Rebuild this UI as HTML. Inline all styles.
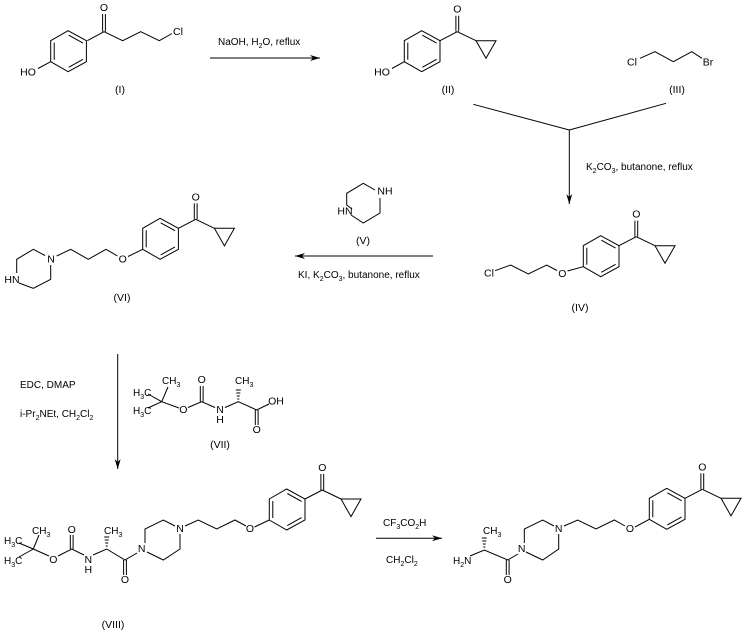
<!DOCTYPE html>
<html><head><meta charset="utf-8"><style>
html,body{margin:0;padding:0;background:#fff;}
svg{display:block;}
text{font-family:"Liberation Sans",sans-serif;font-size:10px;fill:#000;}
.a{text-anchor:middle;dominant-baseline:central;font-size:10.5px;}
.s{font-size:7px;}
</style></head><body>
<svg width="752" height="632" viewBox="0 0 752 632" xmlns="http://www.w3.org/2000/svg">
<defs>
<g id="ring" fill="none" stroke="#000" stroke-width="1">
<polygon points="0,0 0,-21 17.4,-31 35.7,-21 35.7,0 17.4,10"/>
<line x1="3.5" y1="-2" x2="3.5" y2="-19"/>
<line x1="18" y1="-26.5" x2="32.3" y2="-18.6"/>
<line x1="32.3" y1="-2.4" x2="18" y2="5.6"/>
</g>
<g id="ar">
<use href="#ring"/>
<g fill="none" stroke="#000" stroke-width="1">
<line x1="35.7" y1="-21" x2="53" y2="-30"/>
<line x1="51.6" y1="-30" x2="51.6" y2="-46"/>
<line x1="54.4" y1="-30" x2="54.4" y2="-46"/>
<line x1="53" y1="-30" x2="71.7" y2="-21"/>
<polygon points="71.7,-21 91.7,-21 81.7,-3.4"/>
</g>
<text class="a" x="53" y="-52">O</text>
</g>
<marker id="ah" viewBox="0 0 10 6" refX="10" refY="3" markerWidth="10" markerHeight="6" orient="auto" markerUnits="userSpaceOnUse"><path d="M0,0 L10,3 L0,6 L3,3 Z" fill="#000"/></marker>
</defs>

<g fill="none" stroke="#000" stroke-width="1">
<!-- I -->
<polyline points="87.3,40.7 104,31.7 122.7,40.7 140.7,31.7 159.3,40.7 172,33.5"/>
<line x1="102.6" y1="31.7" x2="102.6" y2="14"/><line x1="105.4" y1="31.7" x2="105.4" y2="14"/>
<line x1="50.7" y1="61.7" x2="38" y2="68.5"/>
<!-- arrow1 -->
<line x1="210" y1="58" x2="320" y2="58" marker-end="url(#ah)"/>
<!-- II -->
<line x1="404.3" y1="61.7" x2="392" y2="68.5"/>
<!-- III -->
<polyline points="640,58.3 655,51.7 673.3,61.7 691.7,51.7 702,58.3"/>
<!-- branch -->
<line x1="473.3" y1="104.3" x2="569.3" y2="130"/>
<line x1="666" y1="103.3" x2="569.3" y2="130"/>
<line x1="569.3" y1="130" x2="569.3" y2="204" marker-end="url(#ah)"/>
<!-- IV -->
<polyline points="495,270.7 510.7,265 528.3,274 546.7,265 557,270.5"/>
<line x1="567.5" y1="271" x2="583.3" y2="266.7"/>
<!-- V -->
<polyline points="352,209 346.7,205 346.7,193.3 363.3,183.3 375,190"/>
<polyline points="380,198 380,213 363.3,223 351,215"/>
<!-- arrow VI -->
<line x1="433" y1="256" x2="295" y2="256" marker-end="url(#ah)"/>
<!-- VI -->
<polyline points="45,255.5 33.3,249.3 16.7,259.3 16.7,273"/>
<polyline points="19,283 33.3,288.3 50.7,279.3 50.7,265"/>
<polyline points="56.7,256 70.7,249.3 88.3,259.3 106,249.3 117.5,256"/>
<line x1="128" y1="256.5" x2="142.7" y2="249.3"/>
<!-- arrow down -->
<line x1="117.7" y1="354" x2="117.7" y2="469" marker-end="url(#ah)"/>
<!-- VII -->
<line x1="148" y1="394" x2="161.7" y2="401.7"/><line x1="148" y1="408" x2="161.7" y2="401.7"/>
<line x1="168" y1="387" x2="161.7" y2="401.7"/>
<polyline points="161.7,401.7 179,408"/>
<polyline points="188,407.5 201.7,401.7 215,407.5"/>
<line x1="200.3" y1="401.7" x2="200.3" y2="386"/><line x1="203.1" y1="401.7" x2="203.1" y2="386"/>
<polyline points="225,407.5 238.3,401.7 256.7,410 269,404"/>
<line x1="255.3" y1="410" x2="255.3" y2="425"/><line x1="258.1" y1="410" x2="258.1" y2="425"/>
<!-- VIII -->
<line x1="19" y1="543" x2="33.3" y2="549"/><line x1="19" y1="557" x2="33.3" y2="549"/>
<line x1="39" y1="535" x2="33.3" y2="549"/>
<line x1="33.3" y1="549" x2="49" y2="556"/>
<polyline points="58,556 71.7,549 84,555"/>
<line x1="70.3" y1="549" x2="70.3" y2="535"/><line x1="73.1" y1="549" x2="73.1" y2="535"/>
<polyline points="93,555 106.7,549 125,560 137,553"/>
<line x1="123.6" y1="560" x2="123.6" y2="575"/><line x1="126.4" y1="560" x2="126.4" y2="575"/>
<polyline points="145,543 145,529 163.3,520 175,526"/>
<polyline points="180,534 180,549 163.3,560 147,552"/>
<polyline points="185,526 198.3,520 216.7,529 235,520 246,526"/>
<line x1="254.5" y1="527" x2="269.3" y2="520"/>
<!-- arrow bottom -->
<line x1="376" y1="538.3" x2="442" y2="538.3" marker-end="url(#ah)"/>
<!-- final -->
<polyline points="470,556 484.3,550 507.7,560 518,554"/>
<line x1="506.3" y1="560" x2="506.3" y2="575"/><line x1="509.1" y1="560" x2="509.1" y2="575"/>
<polyline points="524.3,543 524.3,529 542.7,520 554,526"/>
<polyline points="558.7,534 558.7,549 542.7,560 526,552"/>
<polyline points="564,526 577.7,520 596,529 614.3,520 625,526"/>
<line x1="635" y1="527" x2="649.3" y2="519.3"/>
</g>
<!-- hashed bonds -->
<g stroke="#000" stroke-width="1">
<line x1="237.3" y1="399" x2="239.3" y2="399"/><line x1="236.8" y1="396" x2="239.8" y2="396"/><line x1="236.3" y1="393" x2="240.3" y2="393"/><line x1="235.8" y1="390" x2="240.8" y2="390"/>
<line x1="105.7" y1="546" x2="107.7" y2="546"/><line x1="105.2" y1="543" x2="108.2" y2="543"/><line x1="104.7" y1="540" x2="108.7" y2="540"/><line x1="104.2" y1="537" x2="109.2" y2="537"/>
<line x1="483.3" y1="547" x2="485.3" y2="547"/><line x1="482.8" y1="544" x2="485.8" y2="544"/><line x1="482.3" y1="541" x2="486.3" y2="541"/><line x1="481.8" y1="538" x2="486.8" y2="538"/>
</g>

<use href="#ring" x="50.7" y="61.7"/>
<use href="#ar" x="404.3" y="61.7"/>
<use href="#ar" x="583.3" y="266.7"/>
<use href="#ar" x="142.7" y="249.3"/>
<use href="#ar" x="269.3" y="520"/>
<use href="#ar" x="649.3" y="519.3"/>

<!-- atom labels -->
<text class="a" x="104" y="8">O</text>
<text class="a" x="178" y="32">Cl</text>
<text class="a" x="28" y="72.5">HO</text>
<text class="a" x="382" y="72.5">HO</text>
<text class="a" x="632" y="62.5">Cl</text>
<text class="a" x="708" y="62.5">Br</text>
<text class="a" x="489" y="273.5">Cl</text>
<text class="a" x="562.3" y="274">O</text>
<text class="a" x="385" y="191.5">NH</text>
<text class="a" x="345" y="211.5">HN</text>
<text class="a" x="51" y="259.5">N</text>
<text class="a" x="12" y="280">HN</text>
<text class="a" x="122.7" y="259.5">O</text>
<!-- VII -->
<text x="133" y="396">H<tspan class="s" dy="3">3</tspan><tspan dy="-3">C</tspan></text>
<text x="133" y="414">H<tspan class="s" dy="3">3</tspan><tspan dy="-3">C</tspan></text>
<text x="162" y="384">CH<tspan class="s" dy="3">3</tspan></text>
<text class="a" x="183.3" y="410">O</text>
<text class="a" x="201.7" y="380">O</text>
<text class="a" x="220" y="410">N</text>
<text class="a" x="220" y="420">H</text>
<text x="235" y="384">CH<tspan class="s" dy="3">3</tspan></text>
<text class="a" x="276" y="401.7">OH</text>
<text class="a" x="256.7" y="430">O</text>
<!-- VIII -->
<text x="4" y="544">H<tspan class="s" dy="3">3</tspan><tspan dy="-3">C</tspan></text>
<text x="4" y="564">H<tspan class="s" dy="3">3</tspan><tspan dy="-3">C</tspan></text>
<text x="32" y="534">CH<tspan class="s" dy="3">3</tspan></text>
<text class="a" x="53.3" y="560">O</text>
<text class="a" x="71.7" y="530">O</text>
<text class="a" x="88.3" y="560">N</text>
<text class="a" x="88.3" y="570">H</text>
<text x="104" y="534">CH<tspan class="s" dy="3">3</tspan></text>
<text class="a" x="125" y="580">O</text>
<text class="a" x="141.7" y="549">N</text>
<text class="a" x="180" y="529">N</text>
<text class="a" x="250" y="529">O</text>
<!-- final -->
<text x="453" y="564">H<tspan class="s" dy="3">2</tspan><tspan dy="-3">N</tspan></text>
<text x="483" y="534">CH<tspan class="s" dy="3">3</tspan></text>
<text class="a" x="507.7" y="580">O</text>
<text class="a" x="521.7" y="549">N</text>
<text class="a" x="558.7" y="529">N</text>
<text class="a" x="630" y="529">O</text>

<!-- compound labels -->
<text class="a" x="120" y="90">(I)</text>
<text class="a" x="448" y="90">(II)</text>
<text class="a" x="677" y="90">(III)</text>
<text class="a" x="580" y="308">(IV)</text>
<text class="a" x="363" y="241">(V)</text>
<text class="a" x="122" y="298">(VI)</text>
<text class="a" x="220" y="445">(VII)</text>
<text class="a" x="113" y="625">(VIII)</text>

<!-- reagents -->
<text x="218" y="45">NaOH, H<tspan class="s" dy="3">2</tspan><tspan dy="-3">O, reflux</tspan></text>
<text x="586" y="170">K<tspan class="s" dy="3">2</tspan><tspan dy="-3">CO</tspan><tspan class="s" dy="3">3</tspan><tspan dy="-3">, butanone, reflux</tspan></text>
<text x="298" y="278">KI, K<tspan class="s" dy="3">2</tspan><tspan dy="-3">CO</tspan><tspan class="s" dy="3">3</tspan><tspan dy="-3">, butanone, reflux</tspan></text>
<text x="20" y="388">EDC, DMAP</text>
<text x="20" y="417">i-Pr<tspan class="s" dy="3">2</tspan><tspan dy="-3">NEt, CH</tspan><tspan class="s" dy="3">2</tspan><tspan dy="-3">Cl</tspan><tspan class="s" dy="3">2</tspan></text>
<text x="383" y="526">CF<tspan class="s" dy="3">3</tspan><tspan dy="-3">CO</tspan><tspan class="s" dy="3">2</tspan><tspan dy="-3">H</tspan></text>
<text x="386" y="563">CH<tspan class="s" dy="3">2</tspan><tspan dy="-3">Cl</tspan><tspan class="s" dy="3">2</tspan></text>
</svg>
</body></html>
